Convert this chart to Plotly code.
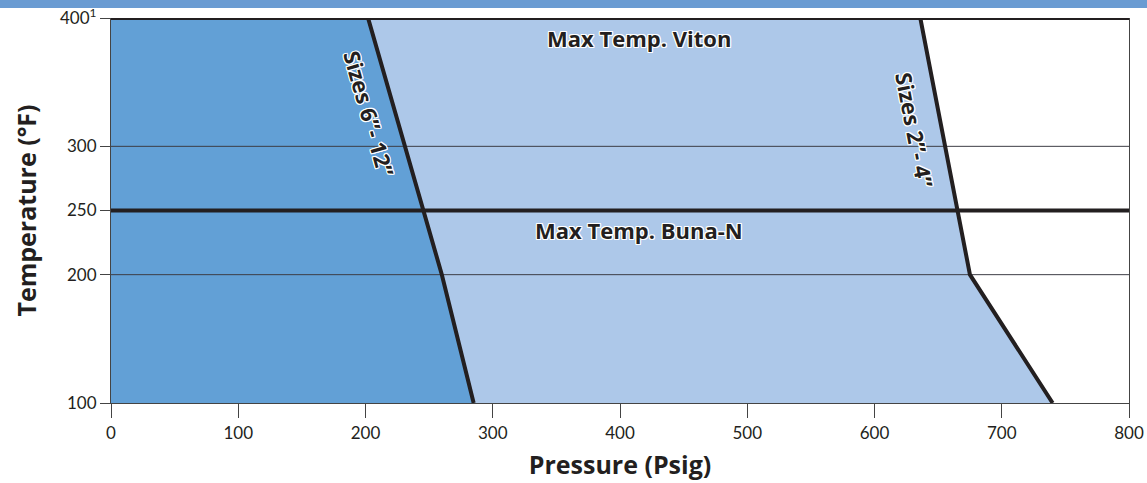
import plotly.graph_objects as go

# Data
temps = [400, 250, 200, 100]                 # temperature breakpoints (°F)
p_6_12 = [202, 246, 260, 285]                 # Sizes 6"-12" max pressure (psig)
p_2_4 = [636, 665, 675, 740]                  # Sizes 2"-4" max pressure (psig)
limit_temps = [400, 250]                      # Max temp Viton, Buna-N
limit_names = ["Max Temp. Viton", "Max Temp. Buna-N"]
grid_temps = [300, 200]
x_ticks = [0, 100, 200, 300, 400, 500, 600, 700, 800]
y_ticks = [100, 200, 250, 300, 400]
y_ticktext = ["100", "200", "250", "300", "400<sup>1</sup>"]

FONT = "Lato, 'Open Sans', sans-serif"
BFONT = "'Open Sans', Lato, sans-serif"
DARK = "#62a0d6"
LIGHT = "#adc8e9"
INK = "#231f20"
halo = ("1px 1px 0 #fff, -1px -1px 0 #fff, 1px -1px 0 #fff, -1px 1px 0 #fff, "
        "0 1px 0 #fff, 0 -1px 0 #fff, 1px 0 0 #fff, -1px 0 0 #fff")

fig = go.Figure()
# fills
fig.add_trace(go.Scatter(x=p_6_12, y=temps, mode="lines", fill="tozerox",
                         fillcolor=DARK, line=dict(width=0), hoverinfo="skip"))
fig.add_trace(go.Scatter(x=p_2_4, y=temps, mode="lines", fill="tonextx",
                         fillcolor=LIGHT, line=dict(width=0), hoverinfo="skip"))
# thin grid lines
for t in grid_temps:
    fig.add_trace(go.Scatter(x=[x_ticks[0], x_ticks[-1]], y=[t, t], mode="lines",
                             line=dict(color="#3d3d45", width=1), hoverinfo="skip"))
# thick limit lines
for t in limit_temps:
    fig.add_trace(go.Scatter(x=[x_ticks[0], x_ticks[-1]], y=[t, t], mode="lines",
                             line=dict(color=INK, width=4), hoverinfo="skip", cliponaxis=False))
# boundary lines
for px in (p_6_12, p_2_4):
    fig.add_trace(go.Scatter(x=px, y=temps, mode="lines",
                             line=dict(color=INK, width=4), hoverinfo="skip", cliponaxis=False))

lab_font = dict(family=BFONT, size=22, color=INK, weight=700, shadow=halo)
fig.add_annotation(x=415, y=384.5, text=limit_names[0], showarrow=False, font=lab_font)
fig.add_annotation(x=415, y=234.5, text=limit_names[1], showarrow=False, font=lab_font)
fig.add_annotation(x=203, y=325, text="Sizes 6”- 12”", showarrow=False, textangle=74,
                   font=lab_font)
fig.add_annotation(x=632, y=313, text="Sizes 2”- 4”", showarrow=False, textangle=79,
                   font=lab_font)

# top blue band
fig.add_shape(type="rect", xref="paper", yref="paper",
              x0=-111/1018, x1=1+18/1018, y0=1+10/385, y1=1+19/385,
              fillcolor="#6a9bd2", line=dict(width=0), layer="above")

title_font = dict(size=25, family=BFONT, color=INK, weight=700)
fig.update_layout(
    width=1147, height=483,
    margin=dict(l=111, r=18, t=18, b=80, autoexpand=False),
    paper_bgcolor="white", plot_bgcolor="white",
    showlegend=False,
    font=dict(family=FONT, color=INK),
    xaxis=dict(range=[0, 800], tickvals=x_ticks, ticks="outside", ticklen=14,
               tickcolor="#444", showline=True, linecolor="#444", linewidth=1.2,
               mirror=False, showgrid=False, zeroline=False, automargin=False,
               tickfont=dict(size=17, family=FONT, color=INK),
               title=dict(text="Pressure (Psig)", font=title_font, standoff=14)),
    yaxis=dict(range=[100, 400], tickvals=y_ticks, ticktext=y_ticktext, ticks="outside",
               ticklen=10, tickcolor="#444", showline=True, linecolor="#444", linewidth=1.2,
               mirror=True, showgrid=False, zeroline=False, automargin=False,
               tickfont=dict(size=17, family=FONT, color=INK),
               title=dict(text="Temperature (°F)", font=title_font, standoff=16)),
)

fig.write_html("out.html", config={"displayModeBar": False},
               post_script="document.body.style.margin='0';document.body.style.padding='0';")
